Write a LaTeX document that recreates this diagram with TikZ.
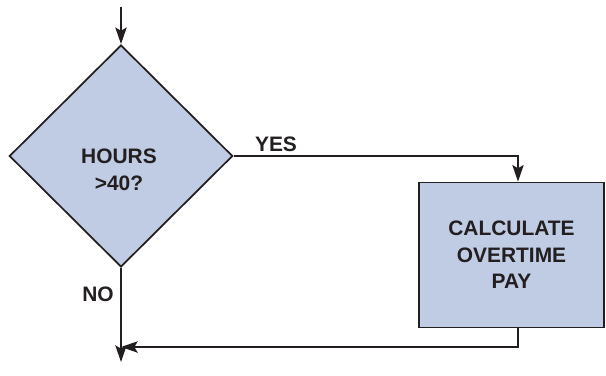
\documentclass[tikz,border=0pt]{standalone}
\usepackage{fontspec}
\setmainfont{Liberation Sans}
\usetikzlibrary{shapes.geometric,arrows.meta}
\definecolor{stepfill}{RGB}{191,204,228}
\definecolor{ink}{RGB}{35,31,32}
\begin{document}
\begin{tikzpicture}[x=0.75pt,y=-0.75pt,line join=miter,
    flow/.style={draw=ink,line width=1.3pt,-{Stealth[length=12.5pt,width=8.5pt,inset=2.5pt]}},
    decision/.style={diamond,draw=ink,line width=1.3pt,fill=stepfill,
      minimum width=167.5pt,minimum height=166.5pt,inner sep=0pt},
    process/.style={rectangle,draw=ink,line width=1.3pt,fill=stepfill,
      minimum width=138.75pt,minimum height=108.75pt,align=center,
      font=\fontsize{15.7}{20}\selectfont\bfseries,text=ink},
    lbl/.style={align=center,inner sep=0pt,
      font=\fontsize{15.7}{20}\selectfont\bfseries,text=ink}]
  \useasboundingbox (0,0) rectangle (606,375);
  % shapes
  \node[decision] (hours) at (121,156) {};
  \node[lbl] (hourstext) at (119,170) {HOURS\\>40?};
  \node[process] (overtime) at (511.5,255) {CALCULATE\\OVERTIME\\PAY};
  % free ends and bends
  \coordinate (entry) at (121,7);
  \coordinate (exit) at (121,362);
  \coordinate (yesx) at (518,0);
  \coordinate (back) at (0,347);
  % connectors
  \draw[flow] (entry) -- (hours.north);
  \draw[flow] (hours.south) -- (exit);
  \draw[flow] (hours.east) -| (overtime.north -| yesx);
  \draw[flow] (overtime.south -| yesx) |- (hours.south |- back);
  % branch labels
  \node[lbl] (yes) at (276,144) {YES};
  \node[lbl] (no) at (98,294) {NO};
\end{tikzpicture}
\end{document}
